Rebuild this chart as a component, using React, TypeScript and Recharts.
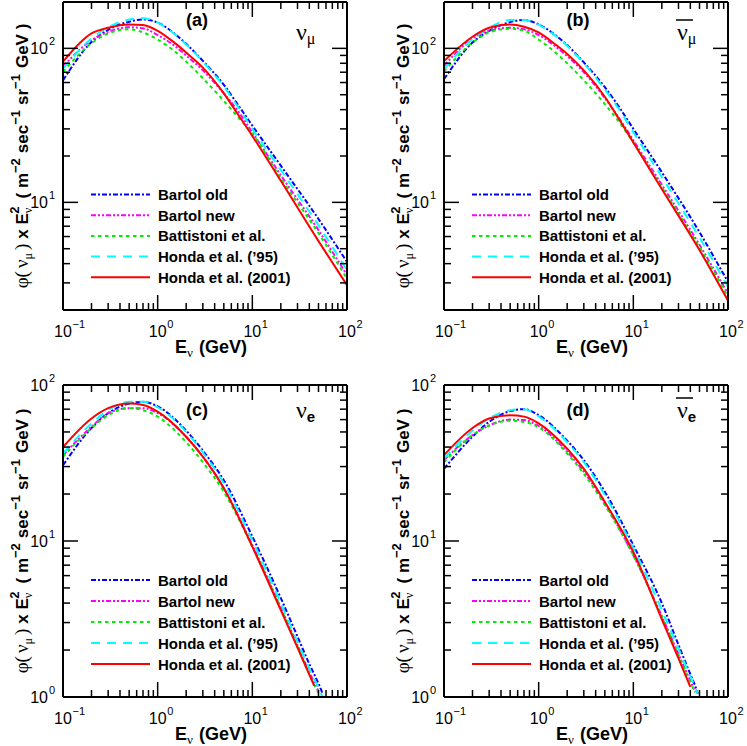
import React from "react";
import { LineChart, Line, XAxis, YAxis } from "recharts";

const SANS = "'Liberation Sans', Arial, Helvetica, sans-serif";
const SERIF = "'Liberation Serif', 'DejaVu Serif', serif";

// energies (GeV) at which curves were read
const ENERGY_MU = [0.1, 0.2, 0.3, 0.5, 0.7, 1, 1.5, 2, 3, 5, 7, 10, 20, 50, 100];
const ENERGY_NUE = [0.1, 0.2, 0.3, 0.5, 0.7, 1, 2, 3, 5, 10, 20, 30, 40, 45, 50, 55];
const ENERGY_NUEBAR = [0.1, 0.2, 0.3, 0.5, 0.7, 1, 2, 3, 5, 10, 20, 30, 40, 45, 48];

const SERIES_NAMES = ["Bartol old", "Bartol new", "Battistoni et al.", "Honda et al. (\u201995)", "Honda et al. (2001)"];

// (a) nu_mu
const NUMU_BARTOL_OLD = [62, 110, 132, 149, 154, 147, 125, 107, 83, 58, 43.3, 31.5, 17.3, 7.8, 4.1];
const NUMU_BARTOL_NEW = [76, 113, 128, 137, 135, 122, 104, 90, 72, 51, 39.5, 28.5, 15, 6.6, 3.37];
const NUMU_BATTISTONI = [70.5, 108, 125, 133, 127, 114, 96, 82, 64, 45.5, 36, 28, 14.3, 6.3, 3.2];
const NUMU_HONDA95 = [74, 116, 137, 154, 157, 147, 124, 106, 82, 56.5, 42, 30, 16.2, 7.1, 3.63];
const NUMU_HONDA01 = [81.9, 125, 136, 143, 142, 130, 109, 94, 75, 51, 37.5, 27, 13.8, 5.6, 2.9];

// (b) anti nu_mu
const NUMUBAR_BARTOL_OLD = [63, 109, 130, 148, 153, 143, 122, 105, 81, 56, 42, 30, 15.7, 6.4, 3.04];
const NUMUBAR_BARTOL_NEW = [77, 116, 130, 136, 133, 122, 103, 89, 70, 47.5, 35.5, 25.3, 13, 5.3, 2.55];
const NUMUBAR_BATTISTONI = [71, 109, 127, 134, 130, 114, 94, 80, 62, 43.5, 33.5, 24.5, 12.5, 5.1, 2.45];
const NUMUBAR_HONDA95 = [73, 115, 136, 153, 153, 142, 121, 104, 80, 54, 40.5, 28.5, 14.6, 5.9, 2.82];
const NUMUBAR_HONDA01 = [82.6, 119, 136, 143, 138, 127, 106, 92, 72, 48.5, 35, 24.5, 12.2, 4.9, 2.3];

// (c) nu_e
const NUE_BARTOL_OLD = [30.6, 53, 66, 76, 78, 73, 51, 38, 24.5, 10.7, 4.3, 2.44, 1.63, 1.4, 1.22, 1.06];
const NUE_BARTOL_NEW = [35.5, 54, 66, 71, 71, 66, 46.6, 34.7, 21.8, 9.4, 3.75, 2.15, 1.44, 1.24, 1.09, null];
const NUE_BATTISTONI = [34.7, 53, 64, 71, 69, 62.7, 43, 32, 20.7, 9.2, 3.7, 2.1, 1.4, 1.2, 1.06, null];
const NUE_HONDA95 = [36.4, 56.8, 69, 78, 78, 72, 50, 37, 23.4, 10.1, 4.0, 2.25, 1.52, 1.3, 1.15, 1.0];
const NUE_HONDA01 = [40, 61, 71, 76, 74.4, 67.5, 46.6, 34.7, 21.8, 9.2, 3.6, 2.07, 1.39, 1.18, null, null];

// (d) anti nu_e
const NUEBAR_BARTOL_OLD = [29, 46.6, 58, 68, 70, 64, 44, 33, 20.7, 9.4, 4.0, 2.16, 1.4, 1.18, 1.05];
const NUEBAR_BARTOL_NEW = [33, 47.7, 55, 60, 59.6, 54.6, 37.3, 27.8, 17.4, 8.1, 3.3, 1.88, 1.27, 1.08, null];
const NUEBAR_BATTISTONI = [32, 47.7, 55, 59, 58, 53.5, 36.4, 27, 17, 8.1, 3.27, 1.86, 1.25, 1.07, null];
const NUEBAR_HONDA95 = [33.8, 51, 61, 69, 70, 63, 43, 32, 19.7, 9.0, 3.6, 2.04, 1.36, 1.16, 1.05];
const NUEBAR_HONDA01 = [35.5, 53, 61, 64, 62.7, 56.8, 39, 29, 17.8, 8.5, 3.15, 1.77, 1.16, null, null];

const X_TICKS = [0.1, 0.2, 0.3, 0.4, 0.5, 0.6, 0.7, 0.8, 0.9, 1, 2, 3, 4, 5, 6, 7, 8, 9, 10, 20, 30, 40, 50, 60, 70, 80, 90, 100];
const Y_TICKS_MU = [3, 4, 5, 6, 7, 8, 9, 10, 20, 30, 40, 50, 60, 70, 80, 90, 100];
const Y_TICKS_E = [1, 2, 3, 4, 5, 6, 7, 8, 9, 10, 20, 30, 40, 50, 60, 70, 80, 90, 100];

const LINE_STYLES = [
  { color: "#0000ff", dash: "5 2 2 2" },
  { color: "#ff00ff", dash: "5 2 2 2 2 2" },
  { color: "#00ee00", dash: "3.5 3.5" },
  { color: "#00ffff", dash: "9 7" },
  { color: "#ff0000", dash: undefined },
];

const isMajor = (v: number) => Math.abs(Math.log10(v) - Math.round(Math.log10(v))) < 1e-6;
const expText = (v: number) => {
  const e = Math.round(Math.log10(v));
  return e < 0 ? "\u2212" + -e : String(e);
};

function BottomTick(props: any) {
  const { x, y, payload } = props;
  const major = isMajor(payload.value);
  return (
    <g>
      <line x1={x} x2={x} y1={y} y2={y - (major ? 15 : 7)} stroke="#000" strokeWidth={1.5} />
      {major && (
        <g fontFamily={SANS} fill="#000">
          <text x={x} y={y + 27} fontSize={16} textAnchor="middle">10</text>
          <text x={x + 9.5} y={y + 18} fontSize={11}>{expText(payload.value)}</text>
        </g>
      )}
    </g>
  );
}

function TopTick(props: any) {
  const { x, y, payload } = props;
  const major = isMajor(payload.value);
  return <line x1={x} x2={x} y1={y} y2={y + (major ? 15 : 7)} stroke="#000" strokeWidth={1.5} />;
}

function LeftTick(props: any) {
  const { x, y, payload } = props;
  const major = isMajor(payload.value);
  return (
    <g>
      <line x1={x} x2={x + (major ? 15 : 7)} y1={y} y2={y} stroke="#000" strokeWidth={1.5} />
      {major && (
        <g fontFamily={SANS} fill="#000">
          <text x={x - 15} y={y + 5.5} fontSize={16} textAnchor="end">10</text>
          <text x={x - 14} y={y - 3} fontSize={11}>{expText(payload.value)}</text>
        </g>
      )}
    </g>
  );
}

function RightTick(props: any) {
  const { x, y, payload } = props;
  const major = isMajor(payload.value);
  return <line x1={x} x2={x - (major ? 15 : 7)} y1={y} y2={y} stroke="#000" strokeWidth={1.5} />;
}

interface PanelProps {
  left: number;
  top: number;
  width: number;
  height: number;
  plot: { left: number; top: number; width: number; height: number };
  energies: number[];
  values: (number | null)[][];
  yDomain: [number, number];
  yTicks: number[];
  tag: string;
  tagY: number;
  flavour: string;
  bar: boolean;
  nuY: number;
  legendY: number;
  legendStep: number;
}

function Panel(p: PanelProps) {
  const pl = p.plot.left;
  const pt = p.plot.top;
  const pw = p.plot.width;
  const ph = p.plot.height;
  const cx = pl + pw / 2;
  const cy = pt + ph / 2;
  const nuX = pl + 233;
  const frame = { stroke: "#000", strokeWidth: 2 };
  // axes are 1px thick bands just outside the plot box
  const margin = { left: pl - 1, top: pt - 1, right: p.width - pl - pw - 1, bottom: p.height - pt - ph - 1 };

  return (
    <div style={{ position: "absolute", left: p.left, top: p.top }}>
      <LineChart width={p.width} height={p.height} margin={margin}>
        <XAxis
          xAxisId="b"
          dataKey="x"
          type="number"
          scale="log"
          domain={[0.1, 100]}
          allowDataOverflow
          ticks={X_TICKS}
          interval={0}
          height={1}
          tickSize={0}
          tickMargin={0}
          tickLine={false}
          axisLine={frame}
          tick={(t: any) => <BottomTick {...t} />}
        />
        <XAxis
          xAxisId="t"
          orientation="top"
          dataKey="x"
          type="number"
          scale="log"
          domain={[0.1, 100]}
          allowDataOverflow
          ticks={X_TICKS}
          interval={0}
          height={1}
          tickSize={0}
          tickMargin={0}
          tickLine={false}
          axisLine={frame}
          tick={(t: any) => <TopTick {...t} />}
        />
        <YAxis
          yAxisId="l"
          type="number"
          scale="log"
          domain={p.yDomain}
          allowDataOverflow
          ticks={p.yTicks}
          interval={0}
          width={1}
          tickSize={0}
          tickMargin={0}
          tickLine={false}
          axisLine={frame}
          tick={(t: any) => <LeftTick {...t} />}
        />
        <YAxis
          yAxisId="r"
          orientation="right"
          type="number"
          scale="log"
          domain={p.yDomain}
          allowDataOverflow
          ticks={p.yTicks}
          interval={0}
          width={1}
          tickSize={0}
          tickMargin={0}
          tickLine={false}
          axisLine={frame}
          tick={(t: any) => <RightTick {...t} />}
        />
        {p.values.map((vals, i) => (
          <Line
            key={SERIES_NAMES[i]}
            xAxisId="b"
            yAxisId="l"
            data={p.energies.map((e, k) => ({ x: e, y: vals[k] }))}
            dataKey="y"
            type="monotone"
            stroke={LINE_STYLES[i].color}
            strokeDasharray={LINE_STYLES[i].dash}
            strokeWidth={2}
            dot={false}
            activeDot={false}
            isAnimationActive={false}
          />
        ))}

        {/* legend */}
        {SERIES_NAMES.map((name, i) => (
          <g key={"lg" + i}>
            <line
              x1={pl + 28}
              x2={pl + 87}
              y1={p.legendY + i * p.legendStep}
              y2={p.legendY + i * p.legendStep}
              stroke={LINE_STYLES[i].color}
              strokeDasharray={LINE_STYLES[i].dash}
              strokeWidth={2}
            />
            <text x={pl + 95} y={p.legendY + i * p.legendStep + 5.5} fontFamily={SANS} fontWeight="bold" fontSize={15} fill="#000">
              {name}
            </text>
          </g>
        ))}

        {/* panel tag and neutrino flavour */}
        <text x={pl + 134} y={p.tagY} textAnchor="middle" fontFamily={SANS} fontWeight="bold" fontSize={18} fill="#000">
          {p.tag}
        </text>
        <text x={nuX} y={p.nuY} fontFamily={SERIF} fontSize={24} fill="#000">
          {"\u03bd"}
          {p.flavour === "mu" ? (
            <tspan fontSize={16} dy={4}>{"\u03bc"}</tspan>
          ) : (
            <tspan fontFamily={SANS} fontWeight="bold" fontSize={15} dy={4}>e</tspan>
          )}
        </text>
        {p.bar && <line x1={nuX - 1} x2={nuX + 16} y1={p.nuY - 20} y2={p.nuY - 20} stroke="#000" strokeWidth={1.5} />}

        {/* x axis title */}
        <text x={cx + 6} y={pt + ph + 43} textAnchor="middle" fontFamily={SANS} fontWeight="bold" fontSize={18} fill="#000">
          E
          <tspan fontFamily={SERIF} fontWeight="normal" fontSize={13} dy={4}>{"\u03bd"}</tspan>
          <tspan dy={-4} dx={6}>(GeV)</tspan>
        </text>

        {/* y axis title */}
        <text
          transform={`translate(${pl - 35},${cy}) rotate(-90)`}
          textAnchor="middle"
          fontFamily={SANS}
          fontWeight="bold"
          fontSize={17}
          fill="#000"
        >
          <tspan fontFamily={SERIF} fontWeight="normal" fontSize={19}>{"\u03c6("}</tspan>
          <tspan fontFamily={SERIF} fontWeight="normal" fontSize={19} dx={3}>{"\u03bd"}</tspan>
          <tspan fontFamily={SERIF} fontWeight="normal" fontSize={12} dy={4}>{"\u03bc"}</tspan>
          <tspan fontFamily={SERIF} fontWeight="normal" fontSize={19} dy={-4} dx={3}>)</tspan>
          <tspan dx={5}>x E</tspan>
          <tspan fontFamily={SERIF} fontWeight="normal" fontSize={12} dy={4}>{"\u03bd"}</tspan>
          <tspan fontSize={13} dy={-13} dx={-6}>2</tspan>
          <tspan dy={9} dx={8}>( m</tspan>
          <tspan fontSize={13} dy={-8}>{"\u22122"}</tspan>
          <tspan dy={8} dx={5}>sec</tspan>
          <tspan fontSize={13} dy={-8}>{"\u22121"}</tspan>
          <tspan dy={8} dx={5}>sr</tspan>
          <tspan fontSize={13} dy={-8}>{"\u22121"}</tspan>
          <tspan dy={8} dx={6}>GeV )</tspan>
        </text>
      </LineChart>
    </div>
  );
}

export default function App() {
  return (
    <div style={{ position: "absolute", left: 0, top: 0, width: 747, height: 746, background: "#fff" }}>
      <Panel
        left={0}
        top={0}
        width={370}
        height={370}
        plot={{ left: 63, top: 2, width: 284, height: 308 }}
        energies={ENERGY_MU}
        values={[NUMU_BARTOL_OLD, NUMU_BARTOL_NEW, NUMU_BATTISTONI, NUMU_HONDA95, NUMU_HONDA01]}
        yDomain={[2, 200]}
        yTicks={Y_TICKS_MU}
        tag="(a)"
        tagY={26}
        flavour="mu"
        bar={false}
        nuY={40}
        legendY={194.5}
        legendStep={20.7}
      />
      <Panel
        left={370}
        top={0}
        width={377}
        height={370}
        plot={{ left: 74, top: 2, width: 284, height: 308 }}
        energies={ENERGY_MU}
        values={[NUMUBAR_BARTOL_OLD, NUMUBAR_BARTOL_NEW, NUMUBAR_BATTISTONI, NUMUBAR_HONDA95, NUMUBAR_HONDA01]}
        yDomain={[2, 200]}
        yTicks={Y_TICKS_MU}
        tag="(b)"
        tagY={26}
        flavour="mu"
        bar={true}
        nuY={40}
        legendY={194.5}
        legendStep={20.7}
      />
      <Panel
        left={0}
        top={370}
        width={370}
        height={376}
        plot={{ left: 63, top: 15, width: 284, height: 312 }}
        energies={ENERGY_NUE}
        values={[NUE_BARTOL_OLD, NUE_BARTOL_NEW, NUE_BATTISTONI, NUE_HONDA95, NUE_HONDA01]}
        yDomain={[1, 100]}
        yTicks={Y_TICKS_E}
        tag="(c)"
        tagY={46}
        flavour="e"
        bar={false}
        nuY={48}
        legendY={210}
        legendStep={21}
      />
      <Panel
        left={370}
        top={370}
        width={377}
        height={376}
        plot={{ left: 74, top: 15, width: 284, height: 312 }}
        energies={ENERGY_NUEBAR}
        values={[NUEBAR_BARTOL_OLD, NUEBAR_BARTOL_NEW, NUEBAR_BATTISTONI, NUEBAR_HONDA95, NUEBAR_HONDA01]}
        yDomain={[1, 100]}
        yTicks={Y_TICKS_E}
        tag="(d)"
        tagY={46}
        flavour="e"
        bar={true}
        nuY={48}
        legendY={210}
        legendStep={21}
      />
    </div>
  );
}
